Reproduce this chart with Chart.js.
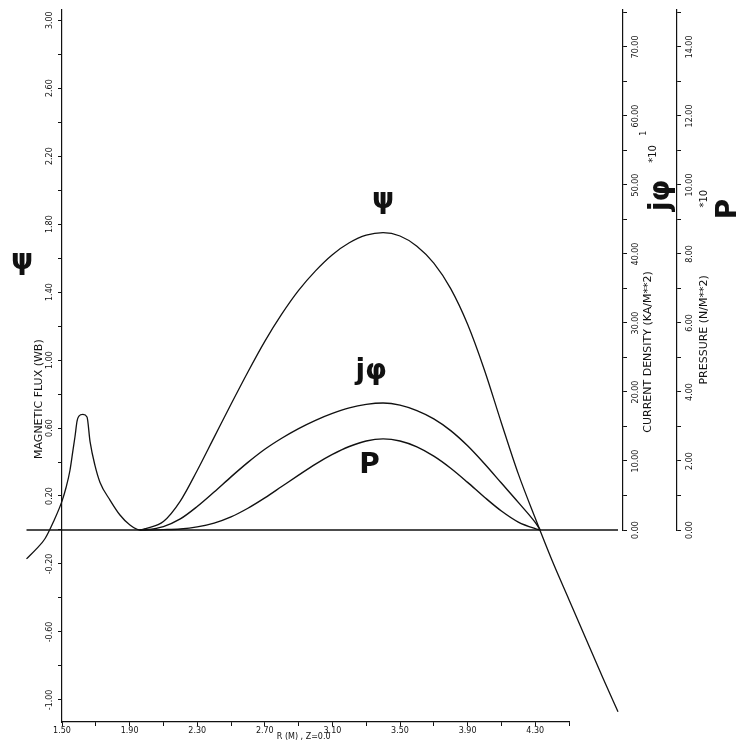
<!DOCTYPE html>
<html>
<head>
<meta charset="utf-8">
<script src="https://cdn.jsdelivr.net/npm/chart.js@4.4.1/dist/chart.umd.min.js"></script>
<style>
  html, body { margin: 0; padding: 0; background: #fff; }
  #wrap { width: 740px; height: 740px; }
</style>
</head>
<body>
<div id="wrap"><canvas id="profil"></canvas></div>
<script>
// poloidal flux along the midplane (Wb)
const psiR   = [1.29, 1.35, 1.40, 1.45, 1.50, 1.524, 1.547, 1.565, 1.577, 1.589, 1.60, 1.624, 1.648,
                1.666, 1.695, 1.725, 1.784, 1.843, 1.902, 1.96, 2.0, 2.1, 2.2, 2.3, 2.4, 2.5, 2.6,
                2.7, 2.8, 2.9, 3.0, 3.1, 3.2, 3.3, 3.4, 3.5, 3.6, 3.7, 3.8, 3.9, 4.0, 4.1, 4.2,
                4.3, 4.4, 4.5, 4.6, 4.7, 4.79];
const psiVal = [-0.17, -0.11, -0.05, 0.05, 0.17, 0.25, 0.35, 0.47, 0.55, 0.64, 0.67, 0.68, 0.665,
                0.52, 0.38, 0.28, 0.176, 0.088, 0.029, 0.0, 0.01, 0.05, 0.17, 0.35, 0.545, 0.74, 0.93,
                1.11, 1.27, 1.41, 1.525, 1.62, 1.69, 1.735, 1.75, 1.73, 1.67, 1.57, 1.42, 1.21, 0.94, 0.63, 0.33,
                0.07, -0.18, -0.41, -0.64, -0.87, -1.07];

// current density (KA/M**2, x10) and pressure (N/M**2, x10)
const plasmaR = [1.96, 2.0, 2.1, 2.2, 2.3, 2.4, 2.5, 2.6, 2.7, 2.8, 2.9, 3.0, 3.1, 3.2, 3.3, 3.4,
                 3.5, 3.6, 3.7, 3.8, 3.9, 4.0, 4.1, 4.2, 4.3, 4.33];
const jphiVal = [0.0, 0.05, 0.5, 1.6, 3.4, 5.5, 7.7, 9.8, 11.7, 13.3, 14.7, 15.9, 16.9, 17.7, 18.2, 18.4,
                 18.1, 17.3, 16.1, 14.4, 12.2, 9.6, 6.8, 4.0, 1.1, 0.0];
const presVal = [0.0, 0.0, 0.01, 0.03, 0.09, 0.20, 0.38, 0.63, 0.93, 1.26, 1.59, 1.91, 2.19, 2.42, 2.58, 2.64,
                 2.58, 2.41, 2.14, 1.79, 1.38, 0.95, 0.55, 0.23, 0.04, 0.0];

// the Z=0 base line
const baseR   = [1.29, 4.79];
const baseVal = [0, 0];

// ticks and labelled ticks
const rTicks      = [1.5, 1.7, 1.9, 2.1, 2.3, 2.5, 2.7, 2.9, 3.1, 3.3, 3.5, 3.7, 3.9, 4.1, 4.3, 4.5];
const rLabels     = [1.5, 1.9, 2.3, 2.7, 3.1, 3.5, 3.9, 4.3];
const fluxTicks   = [-1.0, -0.8, -0.6, -0.4, -0.2, 0, 0.2, 0.4, 0.6, 0.8, 1.0, 1.2, 1.4, 1.6, 1.8,
                     2.0, 2.2, 2.4, 2.6, 2.8, 3.0];
const fluxLabels  = [-1.0, -0.6, -0.2, 0.2, 0.6, 1.0, 1.4, 1.8, 2.2, 2.6, 3.0];
const jphiTicks   = [0, 5, 10, 15, 20, 25, 30, 35, 40, 45, 50, 55, 60, 65, 70, 75];
const jphiLabels  = [0, 10, 20, 30, 40, 50, 60, 70];
const presTicks   = [0, 1, 2, 3, 4, 5, 6, 7, 8, 9, 10, 11, 12, 13, 14, 15];
const presLabels  = [0, 2, 4, 6, 8, 10, 12, 14];

const pts = (xs, ys) => xs.map((x, i) => ({x: x, y: ys[i]}));
const setTicks = list => (s => { s.ticks = list.map(v => ({value: v})); });

const INK = '#111';
const SMALL = '8px "DejaVu Sans"';
const TITLE = '11px "DejaVu Sans"';
const MID = '10px "DejaVu Sans"';
const BIG = 'bold 28px "DejaVu Sans"';

function upText(ctx, txt, x, y, font) {
  ctx.save();
  ctx.translate(x, y);
  ctx.rotate(-Math.PI / 2);
  ctx.font = font;
  ctx.fillText(txt, 0, 0);
  ctx.restore();
}

// rotated tick labels, axis titles and the hand lettered symbols
const scanText = {
  id: 'scanText',
  afterDraw(chart) {
    const {ctx} = chart;
    const sx = chart.scales.x, sy = chart.scales.y, sc = chart.scales.cd, sp = chart.scales.pr;
    ctx.save();
    ctx.fillStyle = INK;
    ctx.textAlign = 'center';
    ctx.textBaseline = 'middle';

    fluxLabels.forEach(v => upText(ctx, v.toFixed(2), sy.right - 12, sy.getPixelForValue(v), SMALL));
    jphiLabels.forEach(v => upText(ctx, v.toFixed(2), sc.left + 13, sc.getPixelForValue(v), SMALL));
    presLabels.forEach(v => upText(ctx, v.toFixed(2), sp.left + 13, sp.getPixelForValue(v), SMALL));

    upText(ctx, 'MAGNETIC FLUX (WB)', sy.right - 23, sy.getPixelForValue(0.77), TITLE);
    upText(ctx, 'CURRENT DENSITY (KA/M**2)', sc.left + 25, sc.getPixelForValue(25.8), TITLE);
    upText(ctx, 'PRESSURE (N/M**2)', sp.left + 27, sp.getPixelForValue(5.8), TITLE);

    upText(ctx, 'jφ', sc.left + 39, sc.getPixelForValue(48.5), BIG);
    upText(ctx, '*10', sc.left + 30, sc.getPixelForValue(54.5), MID);
    upText(ctx, '1', sc.left + 21, sc.getPixelForValue(57.5), SMALL);
    upText(ctx, '*10', sp.left + 27, sp.getPixelForValue(9.6), MID);
    upText(ctx, 'P', sp.left + 52, sp.getPixelForValue(9.3), BIG);

    ctx.font = SMALL;
    ctx.fillText('R (M) , Z=0.0', sx.getPixelForValue(2.93), sx.bottom - 3);

    ctx.font = BIG;
    ctx.fillText('ψ', 22, sy.getPixelForValue(1.58));
    ctx.fillText('ψ', sx.getPixelForValue(3.40), sy.getPixelForValue(1.94));
    ctx.fillText('jφ', sx.getPixelForValue(3.33), sy.getPixelForValue(0.93));
    ctx.fillText('P', sx.getPixelForValue(3.32), sy.getPixelForValue(0.38));
    ctx.restore();
  }
};

const hiddenAxis = (extra) => Object.assign({
  type: 'linear',
  position: 'right',
  grid: {display: false},
  border: {display: false},
  ticks: {display: false}
}, extra);

const axisStyle = (extra) => Object.assign({
  type: 'linear',
  grid: {drawOnChartArea: false, color: INK, tickLength: 4, tickWidth: 1},
  border: {color: INK, width: 1.2},
  ticks: {display: false}
}, extra);

new Chart(document.getElementById('profil'), {
  type: 'line',
  data: {
    datasets: [
      {data: pts(baseR, baseVal), yAxisID: 'y', borderColor: INK, borderWidth: 1.6},
      {data: pts(psiR, psiVal), yAxisID: 'y', borderColor: INK, borderWidth: 1.3},
      {data: pts(plasmaR, jphiVal), yAxisID: 'cd', borderColor: INK, borderWidth: 1.4},
      {data: pts(plasmaR, presVal), yAxisID: 'pr', borderColor: INK, borderWidth: 1.4}
    ]
  },
  plugins: [scanText],
  options: {
    animation: false,
    responsive: true,
    maintainAspectRatio: false,
    layout: {padding: {top: 10, left: 0, right: 0, bottom: 0}},
    datasets: {
      line: {pointRadius: 0, fill: false, clip: false, cubicInterpolationMode: 'monotone'}
    },
    plugins: {legend: {display: false}, tooltip: {enabled: false}},
    scales: {
      // range set after the data limits so that the curves running past the frame stay drawn
      x: axisStyle({
        position: 'bottom', bounds: 'data',
        afterDataLimits: s => { s.min = 1.5; s.max = 4.5; },
        afterBuildTicks: setTicks(rTicks),
        afterFit: s => { s.height = 18; },
        ticks: {
          display: true, autoSkip: false, maxRotation: 0, padding: 0,
          color: INK, font: {family: 'DejaVu Sans', size: 8},
          callback: v => rLabels.includes(v) ? v.toFixed(2) : ''
        }
      }),
      y: axisStyle({
        position: 'left', min: -1.13, max: 3.06,
        afterBuildTicks: setTicks(fluxTicks),
        afterFit: s => { s.width = 62; }
      }),
      gap: hiddenAxis({weight: 0, afterFit: s => { s.width = 54; }}),
      cd: axisStyle({
        position: 'right', weight: 1, stack: 'cdStack', stackWeight: 520,
        min: 0, max: 75.36,
        afterBuildTicks: setTicks(jphiTicks),
        afterFit: s => { s.width = 54; }
      }),
      cdPad: hiddenAxis({weight: 1, stack: 'cdStack', stackWeight: 192, afterFit: s => { s.width = 54; }}),
      pr: axisStyle({
        position: 'right', weight: 2, stack: 'prStack', stackWeight: 520,
        min: 0, max: 15.07,
        afterBuildTicks: setTicks(presTicks),
        afterFit: s => { s.width = 63; }
      }),
      prPad: hiddenAxis({weight: 2, stack: 'prStack', stackWeight: 192, afterFit: s => { s.width = 63; }})
    }
  }
});
</script>
</body>
</html>
